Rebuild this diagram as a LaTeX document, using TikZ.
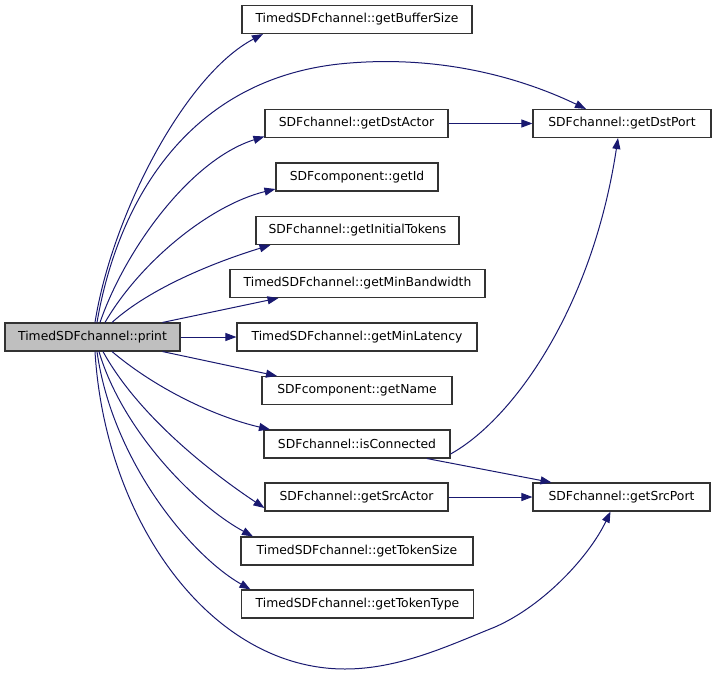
\documentclass[tikz,border=0pt]{standalone}
\usepackage{fontspec}
\setmainfont{DejaVu Sans}
\usetikzlibrary{arrows.meta}
\definecolor{edgeblue}{HTML}{191970}
\definecolor{boxgray}{HTML}{BFBFBF}
\tikzset{
  fn/.style={draw=black!80, line width=1.1bp, fill=white, rectangle, inner sep=0pt,
    minimum height=28bp, font=\fontsize{12.4}{14}\selectfont, text=black},
  fncur/.style={fn, fill=boxgray},
  call/.style={draw=edgeblue, line width=1bp, -{Triangle[length=11bp,width=8bp]}},
}
\begin{document}
\begin{tikzpicture}[x=1bp,y=-1bp]
\useasboundingbox (0,0) rectangle (715,676);
% nodes
\node[fncur, minimum width=175bp] (print) at (92.5,337) {TimedSDFchannel::print};
\node[fn, minimum width=230bp] (buf) at (357,19.5) {TimedSDFchannel::getBufferSize};
\node[fn, minimum width=183bp] (dsta) at (356.5,123.5) {SDFchannel::getDstActor};
\node[fn, minimum width=162bp] (gid) at (357,177) {SDFcomponent::getId};
\node[fn, minimum width=203bp] (itok) at (357.5,230.5) {SDFchannel::getInitialTokens};
\node[fn, minimum width=255bp] (mbw) at (357.5,283.5) {TimedSDFchannel::getMinBandwidth};
\node[fn, minimum width=240bp] (mlat) at (357,337) {TimedSDFchannel::getMinLatency};
\node[fn, minimum width=190bp] (gname) at (357,390.5) {SDFcomponent::getName};
\node[fn, minimum width=186bp] (iscon) at (357,444) {SDFchannel::isConnected};
\node[fn, minimum width=183bp] (srca) at (356.5,497) {SDFchannel::getSrcActor};
\node[fn, minimum width=232bp] (tsize) at (357,551) {TimedSDFchannel::getTokenSize};
\node[fn, minimum width=232bp] (ttype) at (357.5,604) {TimedSDFchannel::getTokenType};
\node[fn, minimum width=178bp] (dstp) at (622,123.5) {SDFchannel::getDstPort};
\node[fn, minimum width=177bp] (srcp) at (621.5,497) {SDFchannel::getSrcPort};
% anchor coordinates
\coordinate (pT1) at ([xshift=2.5bp]print.north);
\coordinate (pT2) at ([xshift=4.5bp]print.north);
\coordinate (pT3) at ([xshift=7.5bp]print.north);
\coordinate (pT4) at ([xshift=12.5bp]print.north);
\coordinate (pT5) at ([xshift=19.5bp]print.north);
\coordinate (pT6) at ([xshift=70bp]print.north);
\coordinate (pB1) at ([xshift=2.5bp]print.south);
\coordinate (pB2) at ([xshift=4.5bp]print.south);
\coordinate (pB3) at ([xshift=6.5bp]print.south);
\coordinate (pB4) at ([xshift=10.5bp]print.south);
\coordinate (pB5) at ([xshift=19.5bp]print.south);
\coordinate (pB6) at ([xshift=70bp]print.south);
% edges from print
\draw[call] (pT1) .. controls (112,215) and (185,75) .. ([xshift=-94bp]buf.south);
\draw[call] (pT2) .. controls (118,200) and (190,75) .. (350,63)
            .. controls (450,55) and (530,82) .. ([xshift=-36bp]dstp.north);
\draw[call] (pT3) .. controls (125,250) and (190,160) .. ([yshift=-13bp]dsta.west);
\draw[call] (pT4) .. controls (140,262) and (210,205) .. ([yshift=-12bp]gid.west);
\draw[call] (pT5) .. controls (150,288) and (215,262) .. ([xshift=-87bp]itok.south);
\draw[call] (pT6) -- ([xshift=-79bp]mbw.south);
\draw[call] (print.east) -- (mlat.west);
\draw[call] (pB6) -- ([xshift=-80bp]gname.north);
\draw[call] (pB5) .. controls (160,392) and (220,418) .. ([xshift=-87bp]iscon.north);
\draw[call] (pB4) .. controls (135,410) and (200,465) .. ([yshift=-11bp]srca.west);
\draw[call] (pB3) .. controls (122,430) and (195,505) .. ([xshift=-104bp]tsize.north);
\draw[call] (pB2) .. controls (112,460) and (190,555) .. ([xshift=-107bp]ttype.north);
\draw[call] (pB1) .. controls (105,520) and (210,669) .. (345,669)
            .. controls (400,669) and (450,645) .. (495,627)
            .. controls (545,605) and (590,555) .. ([xshift=-11bp]srcp.south);
% other edges
\draw[call] (dsta.east) -- (dstp.west);
\draw[call] ([yshift=-10bp]iscon.east) .. controls (512,420) and (592,310) .. ([xshift=-4bp]dstp.south);
\draw[call] ([xshift=70bp]iscon.south) -- ([xshift=-70bp]srcp.north);
\draw[call] (srca.east) -- (srcp.west);
\end{tikzpicture}
\end{document}
